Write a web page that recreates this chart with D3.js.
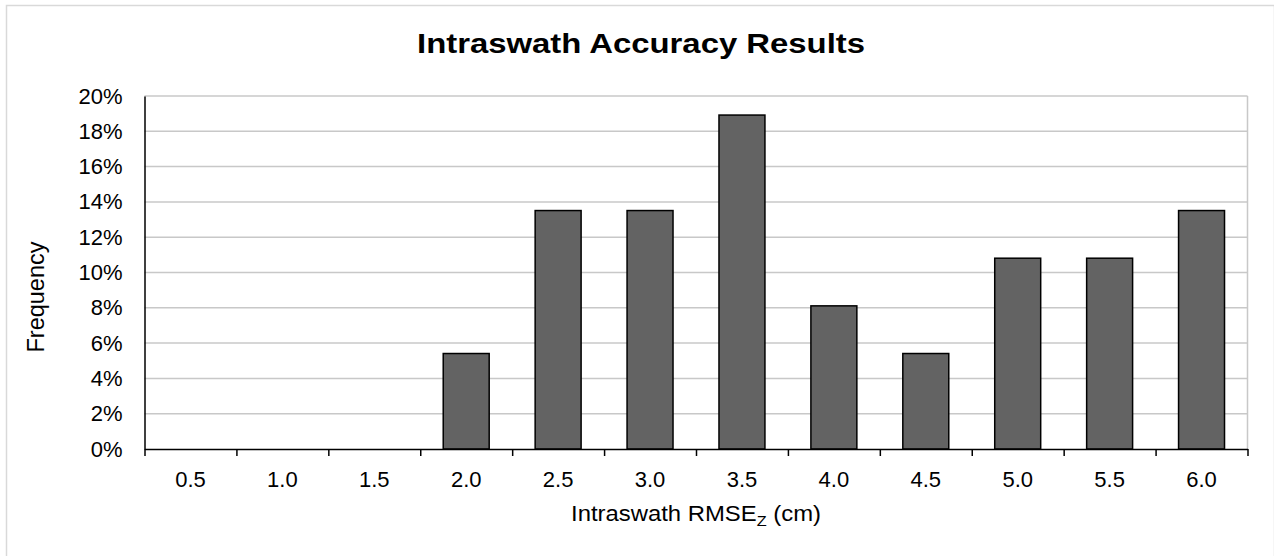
<!DOCTYPE html>
<html lang="en">
<head>
    <meta charset="UTF-8">
    <title>Intraswath Accuracy Results</title>
    <style>
        body {
            margin: 0;
            padding: 0;
            background: #fff;
            font-family: "Liberation Sans", Arial, sans-serif;
        }
        svg { display: block; }
    </style>
</head>
<body>
    <div id="chart"></div>

    <script src="https://d3js.org/d3.v7.min.js"></script>
    <script>
        // bins of intraswath RMSEz (cm) and share of swaths in each
        var bins = ["0.5", "1.0", "1.5", "2.0", "2.5", "3.0", "3.5", "4.0", "4.5", "5.0", "5.5", "6.0"];
        var frequency = [0, 0, 0, 5.41, 13.51, 13.51, 18.92, 8.11, 5.41, 10.81, 10.81, 13.51];
        var yTicks = [0, 2, 4, 6, 8, 10, 12, 14, 16, 18, 20];

        var svgWidth = 1274;
        var svgHeight = 556;
        var margin = { top: 96, right: 26.5, bottom: 107, left: 144.5 };
        var width = svgWidth - margin.left - margin.right;
        var height = svgHeight - margin.top - margin.bottom;

        var svg = d3.select("#chart")
                    .append("svg")
                    .attr("width", svgWidth)
                    .attr("height", svgHeight);

        // outer chart border
        svg.append("rect")
            .attr("x", 6.5)
            .attr("y", 5.5)
            .attr("width", 1268)
            .attr("height", 560)
            .attr("fill", "none")
            .attr("stroke", "#d9d9d9")
            .attr("stroke-width", 1.5);

        var g = svg.append("g")
                   .attr("transform", "translate(" + margin.left + "," + margin.top + ")");

        var x = d3.scaleBand()
            .domain(bins)
            .range([0, width])
            .paddingInner(0.5)
            .paddingOuter(0.25);

        var xEdge = d3.scaleLinear()
            .domain([0, bins.length])
            .range([0, width]);

        var y = d3.scaleLinear()
            .domain([0, 20])
            .range([height, 0]);

        // gridlines
        g.append("g")
            .selectAll("line")
            .data(yTicks.filter(d => d > 0))
            .enter().append("line")
            .attr("x1", 0)
            .attr("x2", width)
            .attr("y1", d => y(d))
            .attr("y2", d => y(d))
            .attr("stroke", "#c8c8c8")
            .attr("stroke-width", 1.5);

        // right plot border
        g.append("line")
            .attr("x1", width).attr("x2", width)
            .attr("y1", 0).attr("y2", height)
            .attr("stroke", "#c8c8c8")
            .attr("stroke-width", 1.5);

        // bars
        g.selectAll(".bar")
            .data(frequency.map((v, i) => ({ bin: bins[i], value: v })).filter(d => d.value > 0))
            .enter().append("rect")
            .attr("class", "bar")
            .attr("x", d => x(d.bin))
            .attr("width", x.bandwidth())
            .attr("y", d => y(d.value))
            .attr("height", d => height - y(d.value))
            .attr("fill", "#636363")
            .attr("stroke", "#000")
            .attr("stroke-width", 1.5);

        // y axis
        var yAxis = g.append("g")
            .call(d3.axisLeft(y).tickValues(yTicks).tickSize(0).tickPadding(22).tickFormat(d => d + "%"));
        yAxis.select(".domain").attr("stroke", "#000").attr("stroke-width", 1.5);
        yAxis.selectAll("text")
            .attr("font-family", "'Liberation Sans', Arial, sans-serif")
            .attr("font-size", "22px")
            .attr("fill", "#000");

        // x axis: boundary ticks
        var xAxis = g.append("g")
            .attr("transform", "translate(0," + height + ")")
            .call(d3.axisBottom(xEdge).tickValues(d3.range(bins.length + 1)).tickSize(7).tickSizeOuter(0).tickFormat(""));
        xAxis.select(".domain").attr("stroke", "#000").attr("stroke-width", 1.5);
        xAxis.selectAll(".tick line").attr("stroke", "#000").attr("stroke-width", 1.5);

        // x axis: category labels
        var xLabels = g.append("g")
            .attr("transform", "translate(0," + height + ")")
            .call(d3.axisBottom(x).tickSize(0).tickPadding(22));
        xLabels.select(".domain").remove();
        xLabels.selectAll("text")
            .attr("font-family", "'Liberation Sans', Arial, sans-serif")
            .attr("font-size", "22px")
            .attr("fill", "#000");

        // title
        svg.append("text")
            .attr("x", 641)
            .attr("y", 53)
            .attr("text-anchor", "middle")
            .attr("font-size", "28px")
            .attr("font-weight", "bold")
            .attr("fill", "#000")
            .attr("textLength", 448)
            .attr("lengthAdjust", "spacingAndGlyphs")
            .text("Intraswath Accuracy Results");

        // x axis label
        var xt = svg.append("text")
            .attr("x", margin.left + width / 2)
            .attr("y", 521)
            .attr("text-anchor", "middle")
            .attr("font-size", "22px")
            .attr("fill", "#000")
            .attr("textLength", 250)
            .attr("lengthAdjust", "spacingAndGlyphs");
        xt.append("tspan").text("Intraswath RMSE");
        xt.append("tspan").attr("font-size", "15px").attr("dy", 5).text("Z");
        xt.append("tspan").attr("dy", -5).text(" (cm)");

        // y axis label
        svg.append("text")
            .attr("transform", "translate(44,297) rotate(-90)")
            .attr("text-anchor", "middle")
            .attr("font-size", "23.5px")
            .attr("fill", "#000")
            .text("Frequency");
    </script>
</body>
</html>
